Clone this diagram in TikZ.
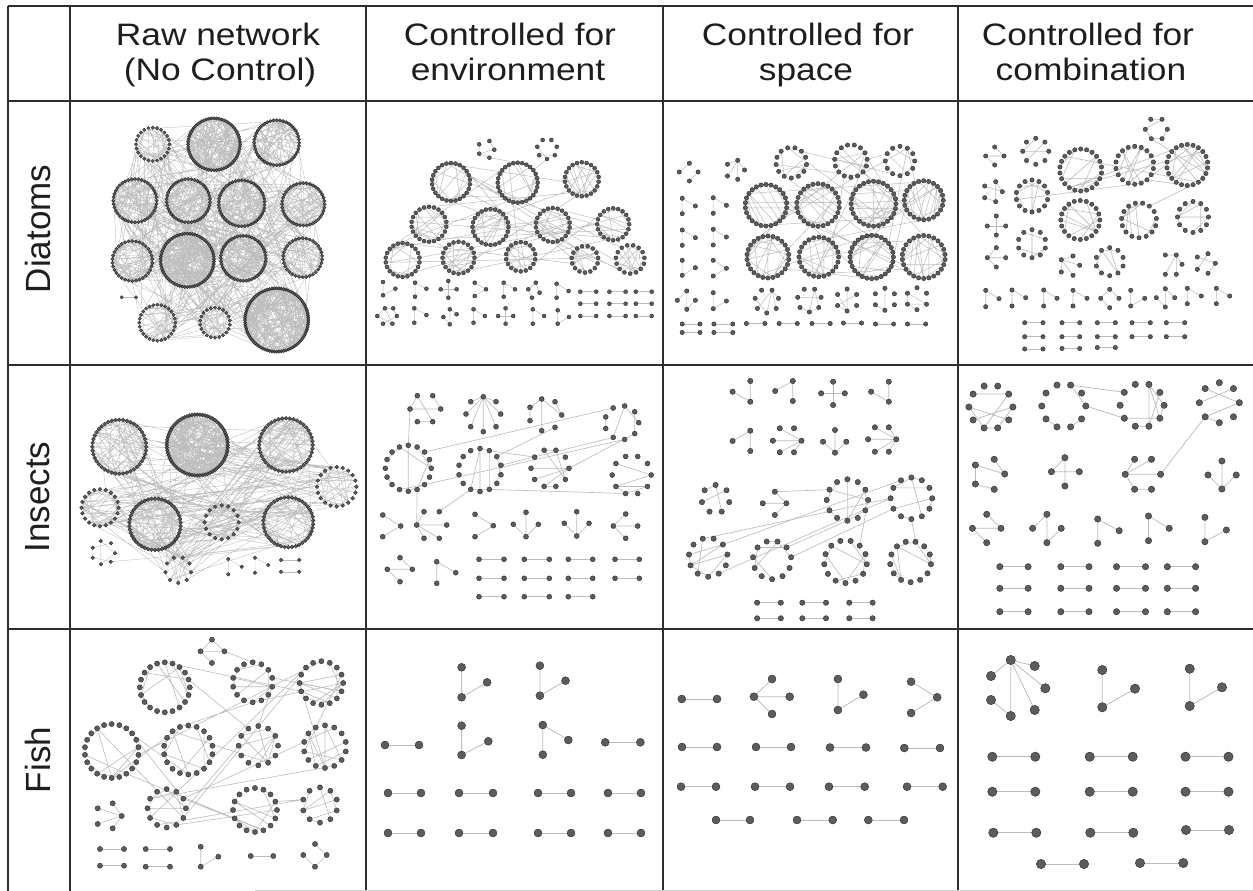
\documentclass[tikz,border=0pt]{standalone}
\usepackage{fontspec}
\setmainfont{Liberation Sans}
\usepackage{graphicx}
\definecolor{gridc}{HTML}{2E2E2E}
\definecolor{nodef}{HTML}{5C5C5C}
\definecolor{nodeb}{HTML}{262626}
\definecolor{edgec}{HTML}{BDBDBD}
\definecolor{txt}{HTML}{1E1E1E}
\def\nr{2pt}
\def\edw{0.5pt}
\tikzset{
  dot/.style={fill=nodef,draw=nodeb,line width=0.35pt},
  ed/.style={draw=edgec,line width=\edw},
  rule/.style={draw=gridc,line width=1.5pt},
  head/.style={anchor=base,font=\fontsize{31}{36}\selectfont,text=txt},
  rowlab/.style={rotate=90,font=\fontsize{35}{40}\selectfont,text=txt},
}
\newcommand\hs[1]{\scalebox{1.14}[1]{#1}}
% vertices are collected per cell and painted over the edges by \flushdots
\gdef\alldots{}
\newcommand\adddot[1]{\xdef\alldots{\alldots (#1) circle[radius=\nr]}}
\newcommand\flushdots{\path[dot] \alldots;\gdef\alldots{}}
% ring of vertices: [start angle]{name}{x}{y}{radius}{count}
\newcommand\ring[6][90]{%
  \expandafter\xdef\csname nn@#2\endcsname{#6}%
  \foreach \i in {1,...,#6}{%
    \pgfmathsetmacro\ang{#1+(360/#6)*(\i-1)}%
    \coordinate (#2-\i) at ({#3+#5*cos(\ang)},{#4+#5*sin(\ang)});
    \adddot{#2-\i}}}
% random chords inside one ring
\newcommand\chords[2]{%
  \edef\nn{\csname nn@#1\endcsname}%
  \gdef\edgepath{}%
  \foreach \k in {1,...,#2}{%
    \pgfmathtruncatemacro\ia{random(1,\nn)}%
    \pgfmathtruncatemacro\ib{mod(\ia+random(1,\nn-1)-1,\nn)+1}%
    \xdef\edgepath{\edgepath (#1-\ia) -- (#1-\ib)}}%
  \path[ed] \edgepath;}
% random links between rings <prefix>1 ... <prefix>#2
\newcommand\cross[3]{%
  \gdef\edgepath{}%
  \foreach \k in {1,...,#3}{%
    \pgfmathtruncatemacro\ra{random(1,#2)}%
    \pgfmathtruncatemacro\rb{mod(\ra+random(1,#2-1)-1,#2)+1}%
    \edef\na{\csname nn@#1\ra\endcsname}%
    \edef\nb{\csname nn@#1\rb\endcsname}%
    \pgfmathtruncatemacro\ia{random(1,\na)}%
    \pgfmathtruncatemacro\ib{random(1,\nb)}%
    \xdef\edgepath{\edgepath (#1\ra-\ia) -- (#1\rb-\ib)}}%
  \path[ed] \edgepath;}
% small component: {name}{x/y list}{edge list}
\newcommand\mot[3]{%
  \foreach \x/\y [count=\i] in {#2}{\coordinate (#1-\i) at (\x,\y); \adddot{#1-\i}}%
  \gdef\edgepath{}%
  \foreach \a/\b in {#3}{\xdef\edgepath{\edgepath (#1-\a) -- (#1-\b)}}%
  \path[ed] \edgepath;}
\newcommand\pr[4]{\mot{#1}{#2/#4,#3/#4}{1/2}}
\newcommand\lnk[2]{\draw[ed] (#1) -- (#2);}

\begin{document}
\begin{tikzpicture}[x=1pt,y=-1pt]
\pgfmathsetseed{7}
\useasboundingbox (0,0) rectangle (1253,891);
\fill[white] (0,0) rectangle (1253,891);

% ---------- table rules ----------
\draw[rule] (8,6) -- (1253,6);
\draw[rule] (8,101) -- (1253,101);
\draw[rule] (8,365) -- (1253,365);
\draw[rule] (8,629) -- (1253,629);
\foreach \x in {8,70,366,663,958} \draw[rule] (\x,6) -- (\x,891);
\draw[draw=black!18,line width=1pt] (255,890) -- (1253,890);

% ---------- headings ----------
\node[head] (h1a) at (218,46) {\hs{Raw network}};
\node[head] (h1b) at (220,81) {\hs{(No Control)}};
\node[head] (h2a) at (510,46) {\hs{Controlled for}};
\node[head] (h2b) at (508,81) {\hs{environment}};
\node[head] (h3a) at (808,46) {\hs{Controlled for}};
\node[head] (h3b) at (806,81) {\hs{space}};
\node[head] (h4a) at (1088,46) {\hs{Controlled for}};
\node[head] (h4b) at (1091,81) {\hs{combination}};
\node[rowlab] (r1) at (38,229) {Diatoms};
\node[rowlab] (r2) at (38,497) {Insects};
\node[rowlab] (r3) at (38,760) {Fish};

% ================= Diatoms: raw =================
\def\nr{1.7pt}\def\edw{0.35pt}
\ring{da1}{152.7}{144.3}{16.7}{24}
\ring{da2}{214}{144.3}{26}{64}
\ring{da3}{276.7}{142.7}{22.5}{44}
\ring{da4}{135}{200.7}{21.7}{40}
\ring{da5}{188.3}{200.7}{21.7}{42}
\ring{da6}{241.7}{203.3}{23}{46}
\ring{da7}{303.3}{204.3}{21.3}{40}
\ring{da8}{132.3}{261}{20}{34}
\ring{da9}{187.3}{260.3}{26.7}{66}
\ring{da10}{243.3}{258.3}{22.5}{48}
\ring{da11}{302.7}{257.7}{19.5}{34}
\ring{da12}{157.3}{322.7}{18}{28}
\ring{da13}{215}{322.7}{15}{22}
\ring{da14}{276.7}{320}{31.7}{84}
\pr{dap}{121.7}{136}{297.3}
\chords{da1}{25}\chords{da2}{140}\chords{da3}{70}\chords{da4}{60}
\chords{da5}{65}\chords{da6}{75}\chords{da7}{60}\chords{da8}{50}
\chords{da9}{150}\chords{da10}{80}\chords{da11}{50}\chords{da12}{30}
\chords{da13}{22}\chords{da14}{230}
\cross{da}{14}{340}
\flushdots

% ================= Diatoms: environment =================
\def\nr{2pt}\def\edw{0.5pt}
\ring{db1}{451}{182}{19}{26}
\ring{db2}{517.7}{182.7}{20}{28}
\ring{db3}{581.8}{179.3}{17}{22}
\ring{db4}{429}{224.3}{17.5}{22}
\ring{db5}{490.5}{227}{18}{24}
\ring{db6}{552.8}{225}{17}{22}
\ring{db7}{613.2}{224.3}{16}{20}
\ring{db8}{402.6}{260}{17}{22}
\ring{db9}{458.5}{257.7}{16}{20}
\ring{db10}{520.7}{256.7}{14.7}{18}
\ring{db11}{584.9}{259.3}{13.3}{15}
\ring{db12}{630.2}{259.3}{14.3}{15}
\foreach \r in {1,...,12}{\chords{db\r}{14}}
\cross{db}{12}{32}
\mot{dbt1}{479.2/144.3,489.4/141,494.3/149.7,479.2/153.7,489.4/157.7}{1/4,4/3,3/2,4/5}
\ring{dbt2}{547}{149}{10}{7}\chords{dbt2}{3}
\lnk{dbt1-5}{db2-15}\lnk{dbt2-1}{db2-19}
\mot{dbm1}{383/282,395.4/288.7,383/295.3}{1/3,3/2}
\mot{dbm2}{415/282.7,426.4/288.7,415/296.7}{1/2,1/3}
\mot{dbm3}{448.3/281,440.7/289.3,456.6/289.3,448.3/297.7}{2/3,1/4}
\mot{dbm4}{474.7/282.7,486/289.3,474.7/296}{1/2,2/3}
\mot{dbm5}{503.7/282.7,515/289.3,503.7/296.7}{1/2,1/3}
\mot{dbm6}{535.8/282.7,528.3/289.3,539.6/292.7,532/297.7}{1/2,2/4,1/3}
\mot{dbm7}{556.6/283.7,568.6/291,556.6/297.7}{1/3,1/2}
\foreach \yy [count=\j] in {291.7,303.7,316}{%
  \pr{dbpa\j}{580.3}{596.2}{\yy}\pr{dbpb\j}{609.4}{625.6}{\yy}\pr{dbpc\j}{635.8}{651.7}{\yy}}
\mot{dbn1}{377.3/316,384.9/308.3,393.2/308.3,396.9/316,383/323.7,392.4/323.7}{1/2,2/3,3/4,1/6,5/4,2/6}
\mot{dbn2}{414.3/308.3,426.4/315,414.3/322.7}{1/2,1/3}
\mot{dbn3}{449.8/309.3,443.4/317,456.6/314.3,449.8/324.3}{1/4,2/4,1/3}
\mot{dbn4}{473.5/309.3,484.9/316,473.5/322.7}{1/3,1/2}
\mot{dbn5}{505.6/308.3,498.1/316,513.2/316,505.6/323.7}{1/4,2/3}
\mot{dbn6}{532.8/309.3,544.1/316,532.8/323.7}{1/2,1/3}
\mot{dbn7}{557.7/310.3,569/317,557.7/323.7}{1/3,3/2}
\flushdots

% ================= Diatoms: space =================
\def\nr{2.2pt}\def\edw{0.5pt}
\ring{dc1}{766}{205.3}{20.8}{26}
\ring{dc2}{818}{205}{21.3}{26}
\ring{dc3}{873.5}{203.7}{22.5}{28}
\ring{dc4}{923.7}{200.3}{19.5}{24}
\ring{dc5}{767.9}{257}{21}{26}
\ring{dc6}{818.8}{257}{19.8}{24}
\ring{dc7}{871.7}{257}{21.7}{28}
\ring{dc8}{923.7}{257}{21.5}{26}
\ring{dc9}{791.3}{162.7}{15.3}{13}
\ring{dc10}{850.9}{161}{16.3}{15}
\ring{dc11}{900}{161}{14.7}{12}
\foreach \r in {1,...,8}{\chords{dc\r}{18}}
\foreach \r in {9,10,11}{\chords{dc\r}{5}}
\cross{dc}{11}{34}
\mot{dcm1}{689.4/163.3,679.2/172,698.1/172,689.4/181}{2/1,3/4}
\mot{dcm2}{737.7/160.3,727.5/164.3,727.5/176,744.5/170,737.7/179.3}{1/2,1/3,1/4,1/5}
\mot{dcl1}{682.2/198.3,695.4/206,682.2/213.7}{1/2,1/3}
\mot{dcl2}{713.2/197.7,726.4/205.3,713.2/213.3}{1/2,1/3}
\mot{dcl3}{682.2/230,695.4/237.7,682.2/245.3}{1/2,1/3}
\mot{dcl4}{713.2/229.3,726.4/237,713.2/245}{1/2,1/3}
\mot{dcl5}{682.2/260.3,695.4/267.7,682.2/275.3}{1/3,2/3}
\mot{dcl6}{713.2/260.3,726.4/268.3,713.2/276}{1/2,2/3}
\mot{dcl7}{686.8/291,677.3/300.3,695.4/300.3,686.8/309.3}{1/4,2/1,3/4}
\mot{dcl8}{713.2/292.7,726.4/301,713.2/308.7}{1/3,2/3}
\ring{dcs1}{766.8}{301}{12}{7}\chords{dcs1}{5}
\ring{dcs2}{809.4}{300}{12}{7}\chords{dcs2}{5}
\ring{dcs3}{847.1}{300}{11}{6}\chords{dcs3}{4}
\ring{dcs4}{884.9}{299.3}{11}{6}\chords{dcs4}{4}
\ring{dcs5}{917}{298.7}{11}{6}\chords{dcs5}{4}
\pr{dcp1}{682.2}{700}{324}\pr{dcp2}{713.9}{732.8}{324}
\pr{dcp3}{746.4}{764.9}{323.5}\pr{dcp4}{779.2}{797.3}{323.5}
\pr{dcp5}{812}{830.2}{323.5}\pr{dcp6}{843.4}{861.5}{323}
\pr{dcp7}{875.5}{893.6}{324}\pr{dcp8}{907.5}{925.7}{324}
\pr{dcp9}{682.2}{700}{332.5}\pr{dcp10}{713.9}{732.8}{332.5}
\flushdots

% ================= Diatoms: combination =================
\def\nr{2.2pt}\def\edw{0.6pt}
\ring{dd1}{1080.7}{170}{21}{22}
\ring{dd2}{1134.7}{165.3}{19}{18}
\ring{dd3}{1187.3}{165}{20.5}{22}
\ring{dd4}{1032}{196}{16}{14}
\ring{dd5}{1080.3}{220}{19.5}{20}
\ring{dd6}{1139}{220.3}{17.5}{15}
\ring{dd7}{1193}{217}{15.5}{12}
\foreach \r in {1,...,7}{\chords{dd\r}{9}}
\cross{dd}{7}{7}
\ring{dds1}{1035.7}{151.3}{13}{8}\chords{dds1}{4}
\ring{dds2}{1032}{243.7}{14}{10}\chords{dds2}{5}
\ring{dds3}{1109.7}{261.7}{14}{10}\chords{dds3}{6}
\mot{ddt}{1150.7/119.3,1162/119.3,1145.3/129.3,1167.3/129.3,1151.3/138.7,1162/138.7}{1/2,2/3,3/5,5/6,4/6}
\lnk{ddt-5}{dd3-19}
\mot{ddm1}{994.7/147,985.7/156,1004/156,994.7/165}{1/3,2/3,2/4}
\mot{ddm2}{995.7/181.7,984.7/186,1002.3/191.7,984.7/197.7,995.7/201.7}{2/3,1/5,4/5,1/3}
\mot{ddm3}{996.3/216,987.3/226,1005.7/226,996.3/235}{1/4,2/3}
\mot{ddm4}{996.3/247.7,987.3/257.7,1005.7/257.7,996.3/267}{2/1,2/3,2/4}
\mot{ddm5}{1061.3/259.7,1073/256,1079.7/265.3,1061.3/272,1073/275.3}{1/2,1/3,1/4,1/5}
\mot{ddm6}{1176.3/255,1165.3/255,1182/264.3,1165.3/274.3,1176.3/274.3}{1/2,1/3,1/4,1/5}
\mot{ddm7}{1208/253.7,1197.3/257,1215.3/263.3,1197.3/269.3,1208/273.3}{1/4,2/3,3/5}
\mot{ddl1}{985.7/290.3,985.7/306.7,999/298.7}{1/2,1/3}
\mot{ddl2}{1012/290,1012/306,1025.7/297.7}{1/2,1/3}
\mot{ddl3}{1043.7/290,1043.7/306,1057/298.3}{1/2,1/3}
\mot{ddl4}{1073/290.3,1073/306,1087/298.3}{1/2,1/3}
\mot{ddl5}{1109.7/289.3,1100.7/298.3,1119/298.3,1109.7/307.7}{1/2,2/4,1/3}
\mot{ddl6}{1130.7/290.3,1130.7/306,1144.7/298.3}{1/2,2/3}
\mot{ddl7}{1165.3/288.7,1156.3/297.7,1174.7/297.7,1165.3/307}{1/4,2/4,1/3}
\mot{ddl8}{1187.3/288.3,1201.3/296,1187.3/303.7}{1/2,1/3}
\mot{ddl9}{1216.3/288.3,1229.7/296,1216.3/303.7}{1/2,1/3}
\foreach \yy [count=\j] in {322.7,336.7}{%
  \pr{ddpa\j}{1024.7}{1043}{\yy}\pr{ddpb\j}{1062}{1079.7}{\yy}\pr{ddpc\j}{1097.3}{1115.3}{\yy}
  \pr{ddpd\j}{1132}{1150.3}{\yy}\pr{ddpe\j}{1166.3}{1184.7}{\yy}}
\pr{ddpf}{1024.7}{1043}{349}\pr{ddpg}{1062}{1079.7}{348.5}\pr{ddph}{1097.3}{1115.3}{347.5}
\flushdots

% ================= Insects: raw =================
\def\nr{1.9pt}\def\edw{0.35pt}
\ring{ia1}{119.3}{446.7}{27}{44}
\ring{ia2}{197.3}{445}{30.5}{72}
\ring{ia3}{286}{445}{26.8}{44}
\ring{ia4}{336.7}{486.7}{19.7}{20}
\ring{ia5}{100}{507.7}{18.5}{20}
\ring{ia6}{155}{524.3}{25.7}{46}
\ring{ia7}{221.7}{522.3}{17}{16}
\ring{ia8}{288.3}{522.3}{25}{42}
\ring{ia9}{178.3}{570}{13}{9}
\chords{ia1}{75}\chords{ia2}{210}\chords{ia3}{75}\chords{ia4}{25}
\chords{ia5}{25}\chords{ia6}{65}\chords{ia7}{15}\chords{ia8}{55}\chords{ia9}{6}
\cross{ia}{9}{190}
\mot{iam1}{100.7/541,111/543.3,92.7/547.7,115/553.3,92.7/557.7,101/564.3,110.7/561.7}{1/4,2/3,3/5,4/6,5/7,1/6}
\lnk{iam1-7}{ia8-3}
\mot{iam2}{228.3/559,241.7/566.7,228.3/574.3}{1/2,1/3}
\mot{iam3}{255/557.7,268.3/565,255/572.7}{1/2,1/3}
\pr{iap1}{281}{299.3}{560}\pr{iap2}{281}{299.3}{571.7}
\flushdots

% ================= Insects: environment =================
\def\nr{2.5pt}\def\edw{0.65pt}
\mot{ibm1}{417.3/395.7,432.7/395.7,410/409,440.7/409,417.3/421.7,432.7/421.7}{1/3,3/4,2/4,1/6,5/6}
\mot{ibm2}{483.3/396.7,470.7/401.7,496/401.7,466/414,500.7/414,470.7/426.7,496/426.7,483.3/431.7}{1/2,1/3,1/4,1/5,1/6,1/7,1/8}
\mot{ibm3}{541.7/399,555/401.7,530/407.3,561.7/415,530/420.7,541.7/430.7,555/427.3}{1/3,1/4,3/5,1/6,2/4}
\ring[160]{ib1}{621.7}{422.7}{17}{9}
\ring{ib2}{408.3}{468.3}{23}{16}
\ring{ib3}{480}{470}{21.5}{14}
\ring[72]{ib4}{550}{468.3}{19}{10}
\ring[72]{ib5}{631.7}{475}{19.5}{10}
\chords{ib1}{6}\chords{ib2}{9}\chords{ib3}{8}\chords{ib4}{7}\chords{ib5}{5}
\lnk{ibm1-3}{ib2-9}\lnk{ib2-11}{ib1-3}\lnk{ib2-15}{ib1-8}\lnk{ib3-11}{ib1-9}
\lnk{ib3-10}{ibm3-7}\lnk{ib3-9}{ib4-5}\lnk{ib3-14}{ib5-2}\lnk{ib4-9}{ib1-7}
\mot{ibr1}{382.7/515,400.7/526,382.7/536.7}{1/2,2/3}
\mot{ibr2}{416.7/525,424/511.7,439.3/511.7,446.7/525,424/538.3,439.3/538.3}{1/2,1/4,1/5,1/6}
\mot{ibr3}{475/514.3,493.3/525.7,475/536.7}{1/2,2/3}
\mot{ibr4}{526/512.3,513.3/524.3,538.3/524.3,526/536.7}{1/4,2/4,3/4}
\mot{ibr5}{576.7/511.7,564.3/523.3,589/523.3,576.7/536}{1/4,2/4,3/4}
\mot{ibr6}{625.7/514,613.3/526,637.7/526,625.7/538.3}{2/1,2/3,2/4}
\lnk{ib2-16}{ibr2-1}\lnk{ibr2-3}{ib3-2}
\mot{ibs1}{400/557.7,387.3/569.3,412.3/569.3,400/581.7}{1/3,2/3,2/4}
\mot{ibs2}{436.7/561.7,455.7/572.7,436.7/583.3}{1/2,1/3}
\foreach \yy [count=\j] in {559.3,578.3}{%
  \pr{ibpa\j}{479}{504}{\yy}\pr{ibpb\j}{524.3}{549.3}{\yy}\pr{ibpc\j}{568.3}{592.7}{\yy}\pr{ibpd\j}{615}{639.3}{\yy}}
\pr{ibpa3}{479}{504}{596.7}\pr{ibpb3}{524.3}{549.3}{596.7}\pr{ibpc3}{568.3}{592.7}{596.7}
\flushdots

% ================= Insects: space =================
\def\nr{2.7pt}\def\edw{0.65pt}
\mot{icm1}{750.3/381,732.6/391.7,750.3/401.7}{1/3,2/3}
\mot{icm2}{792.8/381,775.2/391,792.8/401}{1/3,2/1}
\mot{icm3}{833.1/381.7,821.1/393.3,844.8/393.3,833.1/405}{1/4,2/3}
\mot{icm4}{888.8/381.7,871.1/391.7,888.8/401.7}{1/3,2/3}
\mot{icm5}{750.3/430.7,732.6/441,750.3/451}{1/2,1/3}
\mot{icm6}{779.7/428.3,794/428.3,772.9/440.7,801.5/440.7,779.7/452.3,794/452.3}{1/4,3/4,4/5,6/4}
\mot{icm7}{835/430,823/441.7,846.3/441.7,835/452.7}{1/4,2/4,3/4}
\mot{icm8}{874.9/427.3,888.8/427.3,868.1/439.3,896.3/439.3,874.9/451.7,888.8/451.7}{4/1,4/2,4/3,4/5,4/6}
\ring[-90]{ics}{715.6}{499}{14}{7}\chords{ics}{3}
\mot{icm9}{774.8/491.7,762.7/503.3,786.4/503.3,774.8/515}{1/3,2/3,3/4}
\ring{ic1}{847.4}{500}{20.7}{12}
\ring{ic2}{911.4}{498.3}{20.8}{12}
\ring{ic3}{708.2}{557.3}{19.4}{11}
\ring{ic4}{772.1}{560}{19.2}{11}
\ring{ic5}{845.5}{561.7}{21.4}{13}
\ring{ic6}{910.6}{561.7}{20.5}{13}
\foreach \r in {1,...,6}{\chords{ic\r}{7}}
\lnk{icm9-1}{ic1-5}\lnk{ic3-8}{ic2-6}\lnk{ic3-6}{ic2-4}\lnk{ic3-11}{ic2-4}
\lnk{ic4-8}{ic1-1}\lnk{ic1-10}{ic5-9}\lnk{ic2-1}{ic6-8}\lnk{ic4-9}{ic2-3}
\pr{icpa}{757.1}{780.8}{602.7}\pr{icpb}{802.3}{826}{602.7}\pr{icpc}{849.3}{872.6}{602.7}
\pr{icpd}{757.1}{780.8}{618.3}\pr{icpe}{802.3}{826}{618.3}\pr{icpf}{849.3}{872.6}{618.3}
\flushdots

% ================= Insects: combination =================
\def\nr{3.2pt}\def\edw{0.75pt}
\ring[72]{id1}{990.9}{407}{22}{10}
\ring[72]{id2}{1063.8}{406}{22}{10}
\ring[72]{id3}{1142.1}{405.3}{22}{10}
\ring{id4}{1219.3}{402.7}{20}{8}
\chords{id1}{8}\chords{id2}{4}\chords{id3}{7}\chords{id4}{5}
\lnk{id2-7}{id3-5}\lnk{id2-9}{id3-3}
\mot{idm1}{994.2/459.3,975.4/465,1004.7/474,975.4/484,994.2/489.3}{1/3,2/3,2/4,4/5}
\mot{idm2}{1064.9/457.7,1051.4/471.7,1079.3/471.7,1064.9/486}{1/2,2/3,1/4}
\mot{idm3}{1134.6/459.3,1151.5/459.3,1125.2/474.3,1160.6/474.3,1134.6/489.3,1151.5/489.3}{1/3,3/4,2/3,3/5,5/6}
\mot{idm4}{1221.9/461,1208/475,1236.2/475,1221.9/489}{1/4,2/4,3/4}
\lnk{idm3-4}{id4-2}
\mot{idm5}{986.7/514.3,972.4/528.3,1001/528.3,986.7/542.7}{1/3,2/3,2/4}
\mot{idm6}{1046.9/514.3,1032.6/528.3,1061.2/528.3,1046.9/542.7}{1/4,2/1,3/4}
\mot{idm7}{1097.7/519,1119.2/530.7,1097.7/543.3}{1/2,1/3}
\mot{idm8}{1148.5/516,1169.2/528.3,1148.5/540.7}{1/2,1/3}
\mot{idm9}{1204.9/517.3,1226.4/530,1204.9/541.7}{1/3,3/2}
\foreach \yy [count=\j] in {566.7,588.3,611.7}{%
  \pr{idpa\j}{999.8}{1028.1}{\yy}\pr{idpb\j}{1060.8}{1089}{\yy}\pr{idpc\j}{1116.5}{1145.5}{\yy}\pr{idpd\j}{1167.3}{1195.6}{\yy}}
\flushdots

% ================= Fish: raw =================
\def\nr{2.6pt}\def\edw{0.6pt}
\ring{fa1}{164.8}{687.3}{25}{20}
\ring{fa2}{252.7}{682.3}{20}{14}
\ring{fa3}{321.4}{683}{21.8}{16}
\ring{fa4}{111.7}{751}{27}{22}
\ring{fa5}{188.3}{750}{24.5}{18}
\ring{fa6}{258.3}{745.7}{19.7}{12}
\ring{fa7}{325}{746.7}{21.3}{14}
\ring{fa8}{166.7}{808.3}{19.2}{12}
\ring{fa9}{255}{810}{22}{16}
\ring{fa10}{320}{805}{17.6}{10}
\foreach \r in {1,...,10}{\chords{fa\r}{9}}
\cross{fa}{10}{24}
\mot{fat}{211.9/639.7,200.5/651.3,224.4/651.3,211.9/663}{1/2,2/3,2/4,1/3}
\lnk{fat-3}{fa2-8}
\mot{fam}{97.7/808.3,112.7/803.3,121.7/816,97.7/824,112.7/828.3}{1/3,2/3,3/4,5/3}
\pr{fap1}{100}{124}{849}\pr{fap2}{100}{124}{865.7}
\pr{fap3}{145.7}{170}{849}\pr{fap4}{145.7}{170}{866.7}
\mot{fal}{200.7/846.7,218.3/856.7,200.7/866.7}{1/3,2/3}
\pr{fap5}{250.7}{273.3}{856}
\mot{fad}{315/844,303.3/855,326.7/855,315/866.7}{1/3,2/4,3/4}
\flushdots

% ================= Fish: environment =================
\def\nr{4pt}\def\edw{0.8pt}
\mot{fb1}{461.6/667.3,461.6/697.3,487.1/682.3}{1/2,2/3}
\mot{fb2}{539.9/665.7,539.9/695.7,565.5/680.7}{1/2,2/3}
\pr{fbp1}{385}{419}{745}
\mot{fb3}{461.6/725.7,461.6/755,488.3/741.3}{1/2,2/3}
\mot{fb4}{542.8/725,542.8/754.7,568.3/740}{1/2,1/3}
\pr{fbp2}{605.2}{640.4}{742.3}
\foreach \yy [count=\j] in {793,833}{%
  \pr{fbqa\j}{388}{421}{\yy}\pr{fbqb\j}{459}{493}{\yy}\pr{fbqc\j}{538}{571}{\yy}\pr{fbqd\j}{608}{641}{\yy}}
\flushdots

% ================= Fish: space =================
\def\nr{4pt}\def\edw{0.8pt}
\pr{fcp1}{681.8}{717}{699}
\mot{fc1}{753.9/696.7,772/679,789.7/696.7,772/714}{1/2,1/3,1/4}
\mot{fc2}{837.9/679,837.9/710,863.4/694.7}{1/2,2/3}
\mot{fc3}{911.1/681.7,937.2/697.3,911.1/713}{1/2,2/3}
\pr{fcqa}{682}{717}{747}\pr{fcqb}{756}{791}{747}\pr{fcqc}{830}{866}{747.5}\pr{fcqd}{904.3}{940}{748}
\pr{fcra}{681}{716}{786.7}\pr{fcrb}{755}{790}{786.7}\pr{fcrc}{829}{864.7}{786.7}\pr{fcrd}{907}{942.7}{786.7}
\pr{fcsa}{716}{750}{820}\pr{fcsb}{797}{832.7}{820}\pr{fcsc}{868.3}{904}{820}
\flushdots

% ================= Fish: combination =================
\def\nr{4.7pt}\def\edw{0.8pt}
\mot{fd1}{1010.7/660,991/676,1034.7/666,1045.3/688.3,991/700,1010.7/716,1034.7/710}{1/2,1/3,1/4,1/7,1/6,5/6}
\mot{fd2}{1102.3/670,1102.3/707.3,1135/688.7}{1/2,2/3}
\mot{fd3}{1189.7/668.7,1189.7/706,1222/687.3}{1/2,2/3}
\foreach \yy [count=\j] in {756.7,791.7}{%
  \pr{fdpa\j}{992.3}{1035.3}{\yy}\pr{fdpb\j}{1089.7}{1132.7}{\yy}\pr{fdpc\j}{1185.5}{1228.5}{\yy}}
\pr{fdpa3}{993.3}{1036.3}{832.7}\pr{fdpb3}{1090.3}{1133.3}{832.7}\pr{fdpc3}{1186}{1229}{830}
\pr{fdpd}{1041}{1084}{864}\pr{fdpe}{1140}{1183.3}{863}
\flushdots
\end{tikzpicture}
\end{document}
